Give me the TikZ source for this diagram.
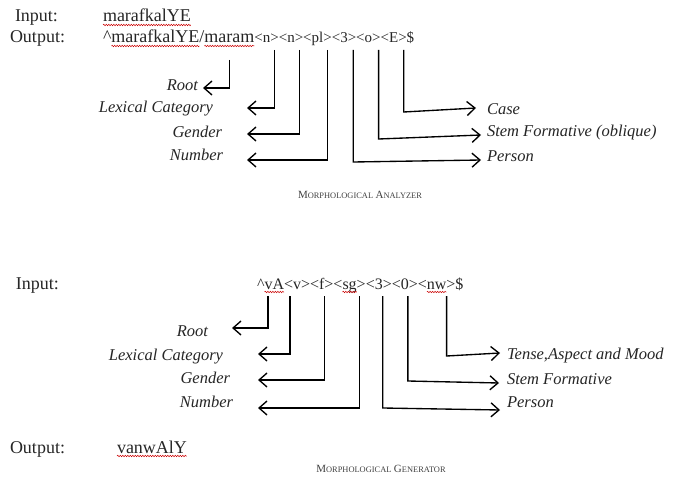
\documentclass[tikz,border=0pt]{standalone}
\usepackage{fontspec}
\setmainfont{Liberation Serif}
\usetikzlibrary{arrows.meta,calc,decorations.pathmorphing}
\newcommand{\scBig}[1]{{\fontsize{11}{13}\selectfont #1}}
\newcommand{\scSmall}[1]{{\fontsize{8.4}{10}\selectfont #1}}
\begin{document}
\begin{tikzpicture}[x=1pt,y=-1pt,
  txt/.style={inner sep=0pt,outer sep=0pt,anchor=base west,text=black!85,font=\fontsize{18}{21}\selectfont},
  tag/.style={inner sep=0pt,outer sep=0pt,anchor=base west,text=black!85,font=\fontsize{15}{18}\selectfont},
  tagb/.style={inner sep=0pt,outer sep=0pt,anchor=base west,text=black!85,font=\fontsize{16}{19}\selectfont},
  labl/.style={inner sep=0pt,outer sep=0pt,anchor=base east,text=black!85,font=\fontsize{16.5}{19}\selectfont\itshape},
  labr/.style={inner sep=0pt,outer sep=0pt,anchor=base west,text=black!85,font=\fontsize{16.5}{19}\selectfont\itshape},
  arr/.style={line width=1.35pt,-{Straight Barb[length=8pt,width=14pt,line width=1.35pt]}},
  squig/.style={red!80!black,line width=0.5pt,decorate,decoration={snake,amplitude=0.7pt,segment length=2.5pt}},
  capt/.style={inner sep=0pt,anchor=base,text=black!75}
]
\useasboundingbox[fill=white] (0,0) rectangle (677,481);

% ---------------- Analyzer ----------------
\node[txt] (in1) at (15,22) {Input:};
\node[txt] (inw1) at (103,22) {marafkalYE};
\node[txt] (out1) at (10,43) {Output:};
\node[txt] (o1) at (103,43) {\textasciicircum};
\node[txt] (o2) at (o1.base east) {marafkalYE};
\node[txt] (o3) at (o2.base east) {/};
\node[txt] (o4) at (o3.base east) {maram};
\node[tag] (tA) at (o4.base east) {<n>};
\node[tag] (tB) at (tA.base east) {<n>};
\node[tag] (tC) at (tB.base east) {<pl>};
\node[tag] (tD) at (tC.base east) {<3>};
\node[tag] (tE) at (tD.base east) {<o>};
\node[tag] (tF) at (tE.base east) {<E>};
\node[tag] (tG) at (tF.base east) {\$};

\draw[squig] ([yshift=-3pt]inw1.base west) -- ([yshift=-3pt]inw1.base east);
\draw[squig] ([yshift=-3pt]o2.base west) -- ([yshift=-3pt]o2.base east);
\draw[squig] ([yshift=-3pt]o4.base west) -- ([yshift=-3pt]o4.base east);

\node[labl] (lRoot) at (198,91) {Root};
\node[labl] (lLex) at (213,113) {Lexical Category};
\node[labl] (lGen) at (222,138) {Gender};
\node[labl] (lNum) at (223,161) {Number};
\node[labr] (lCase) at (487,115) {Case};
\node[labr] (lStem) at (487,137) {Stem Formative (oblique)};
\node[labr] (lPer) at (487,162) {Person};

\coordinate (rootTip) at (203,88);
\coordinate (lexTip) at (247,108);
\coordinate (genTip) at (247,134);
\coordinate (numTip) at (247,160);
\coordinate (caseTip) at (476,108);
\coordinate (stemTip) at (481,135);
\coordinate (perTip) at (481,160);

\draw[arr] ([yshift=-17pt]o4.base) |- (rootTip);
\draw[arr] ([xshift=-4pt,yshift=-7pt]tA.base east) |- (lexTip);
\draw[arr] ([xshift=-4pt,yshift=-7pt]tB.base east) |- (genTip);
\draw[arr] ([xshift=-4pt,yshift=-7pt]tC.base east) |- (numTip);
\draw[arr] ([xshift=-3pt,yshift=-7pt]tD.base east) -- ++(0,112) -- (perTip);
\draw[arr] ([xshift=-2pt,yshift=-7pt]tE.base east) -- ++(0,89) -- (stemTip);
\draw[arr] ([xshift=-3pt,yshift=-7pt]tF.base east) -- ++(0,62) -- (caseTip);

\node[capt] (capA) at (360,199) {\scBig{M}\scSmall{ORPHOLOGICAL} \scBig{A}\scSmall{NALYZER}};

% ---------------- Generator ----------------
\node[txt] (in2) at (16,289) {Input:};
\node[tagb] (g1) at (257,289) {\textasciicircum};
\node[tagb] (g2) at (g1.base east) {vA};
\node[tagb] (gv) at (g2.base east) {<v>};
\node[tagb] (gf) at (gv.base east) {<f>};
\node[tagb] (gsg) at (gf.base east) {<sg>};
\node[tagb] (g3) at (gsg.base east) {<3>};
\node[tagb] (g0) at (g3.base east) {<0>};
\node[tagb] (gnw) at (g0.base east) {<nw>};
\node[tagb] (gd) at (gnw.base east) {\$};

\draw[squig] ([yshift=-3pt]g2.base west) -- ([yshift=-3pt]g2.base east);
\draw[squig] ([xshift=9pt,yshift=-3pt]gsg.base west) -- ([xshift=-9pt,yshift=-3pt]gsg.base east);
\draw[squig] ([xshift=9pt,yshift=-3pt]gnw.base west) -- ([xshift=-9pt,yshift=-3pt]gnw.base east);

\node[labl] (mRoot) at (208,336) {Root};
\node[labl] (mLex) at (223,360) {Lexical Category};
\node[labl] (mGen) at (230,383) {Gender};
\node[labl] (mNum) at (233,407) {Number};
\node[labr] (mTam) at (507,359) {Tense,Aspect and Mood};
\node[labr] (mStem) at (507,384) {Stem Formative};
\node[labr] (mPer) at (507,407) {Person};

\coordinate (rootTip2) at (232,328);
\coordinate (lexTip2) at (258,354);
\coordinate (genTip2) at (258,380);
\coordinate (numTip2) at (258,408);
\coordinate (tamTip2) at (500,353);
\coordinate (stemTip2) at (499,383);
\coordinate (perTip2) at (500,410);

\draw[arr] ([xshift=3.5pt,yshift=-7pt]g2.base west) |- (rootTip2);
\draw[arr] ([xshift=6pt,yshift=-7pt]gv.base west) |- (lexTip2);
\draw[arr] ([xshift=3pt,yshift=-7pt]gf.base) |- (genTip2);
\draw[arr] ([xshift=10pt,yshift=-7pt]gsg.base) |- (numTip2);
\draw[arr] ([xshift=4pt,yshift=-7pt]g3.base) -- ++(0,112) -- (perTip2);
\draw[arr] ([xshift=3pt,yshift=-7pt]g0.base) -- ++(0,85) -- (stemTip2);
\draw[arr] ([xshift=10pt,yshift=-7pt]gnw.base) -- ++(0,60) -- (tamTip2);

\node[txt] (out2) at (10,453) {Output:};
\node[txt] (ow2) at (117,453) {vanwAlY};
\draw[squig] ([yshift=-3pt]ow2.base west) -- ([yshift=-3pt]ow2.base east);

\node[capt] (capG) at (381,472) {\scBig{M}\scSmall{ORPHOLOGICAL} \scBig{G}\scSmall{ENERATOR}};
\end{tikzpicture}
\end{document}
